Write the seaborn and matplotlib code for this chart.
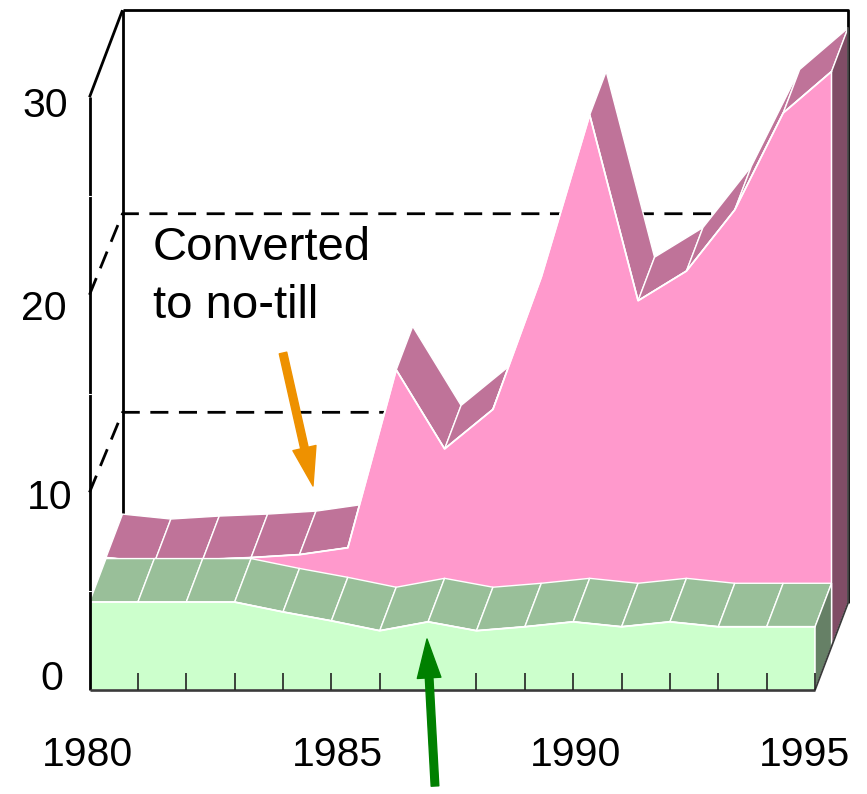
import matplotlib
matplotlib.use("Agg")
import matplotlib.pyplot as plt
import numpy as np
import pandas as pd
import seaborn as sns
from matplotlib.patches import Polygon

# ---- data -------------------------------------------------------------
years = [1980, 1981, 1982, 1983, 1984, 1985, 1986, 1987,
         1988, 1989, 1990, 1991, 1992, 1993, 1994, 1995]
converted_no_till = [4.5, 4.25, 4.4, 4.5, 4.65, 5.0, 14.0, 10.0,
                     12.0, 18.7, 26.9, 17.5, 19.0, 22.1, 27.0, 29.1]
other_no_till = [4.45, 4.45, 4.45, 4.45, 3.95, 3.5, 3.0, 3.45,
                 3.0, 3.2, 3.45, 3.2, 3.45, 3.2, 3.2, 3.2]
y_ticks = [0, 10, 20, 30]
x_tick_labels = [1980, 1985, 1990, 1995]
gridline_values = [10, 20]
note_lines = ["Converted", "to no-till"]

# ---- style ------------------------------------------------------------
sns.set_theme(style="white")
plt.rcParams["font.family"] = ["Liberation Sans", "DejaVu Sans"]

W, H = 867, 794
X0_PX, X_PER_YEAR = 89.5, 48.37      # pixel position of 1980, pixels per year
Y0_PX, Y_PER_UNIT = 690.0, 19.76     # pixel position of 0, pixels per unit
DEPTH_PX = (33.0, 87.0)              # oblique offset of the back wall

DX = DEPTH_PX[0] / X_PER_YEAR
DY = DEPTH_PX[1] / Y_PER_UNIT


def px2x(px):
    return years[0] + (px - X0_PX) / X_PER_YEAR


def py2y(py):
    return (Y0_PX - py) / Y_PER_UNIT


def proj(x, v, d):
    """Oblique projection of (year, value, depth) onto the 2-D axes."""
    return x + d * DX, v + d * DY


fig = plt.figure(figsize=(W / 100, H / 100), dpi=100)
ax = fig.add_axes([0, 0, 1, 1])
ax.set_xlim(px2x(0), px2x(W))
ax.set_ylim(py2y(H), py2y(0))
ax.axis("off")

first, last = years[0], years[-1]
top = y_ticks[-1]
frame_kw = dict(color="black", lw=2.0, solid_capstyle="butt")

# ---- back wall --------------------------------------------------------
bx, by = zip(proj(first, 0, 1), proj(first, top, 1))
ax.plot(bx, by, zorder=1, **frame_kw)
bx, by = zip(proj(first, top, 1), proj(last, top, 1), proj(last, 0, 1))
ax.plot(bx, by, zorder=1, **frame_kw)
for g in gridline_values:
    # back-wall gridlines sit slightly lower than the oblique offset gives
    shift = 0.3 if g == 20 else 0.35
    gx, gy = zip(proj(first, g, 0), proj(first, g - shift, 1), proj(last, g - shift, 1))
    ax.plot(gx, gy, color="black", lw=2.0, dashes=(6.5, 3.8), zorder=1)
# left wall top edge
tx, ty = zip(proj(first, top, 0), proj(first, top, 1))
ax.plot(tx, ty, zorder=1, **frame_kw)


# ---- 3-D area rows ----------------------------------------------------
def draw_row(values, d0, d1, front_c, top_c, side_c, z):
    n = len(years)
    for i in range(n - 1):
        quad = [proj(years[i], values[i], d0), proj(years[i + 1], values[i + 1], d0),
                proj(years[i + 1], values[i + 1], d1), proj(years[i], values[i], d1)]
        ax.add_patch(Polygon(quad, closed=True, fc=top_c, ec="white", lw=1.0, zorder=z))
    front = [proj(first, 0, d0)] + [proj(x, v, d0) for x, v in zip(years, values)] \
        + [proj(last, 0, d0)]
    ax.add_patch(Polygon(front, closed=True, fc=front_c, ec="white", lw=1.0, zorder=z + 1))
    side = [proj(last, 0, d0), proj(last, values[-1], d0),
            proj(last, values[-1], d1), proj(last, 0, d1)]
    ax.add_patch(Polygon(side, closed=True, fc=side_c, ec="white", lw=1.0, zorder=z + 1))
    edge = pd.DataFrame([proj(x, v, d0) for x, v in zip(years, values)], columns=["x", "y"])
    sns.lineplot(data=edge, x="x", y="y", color="white", lw=1.3, ax=ax,
                 zorder=z + 2, sort=False, estimator=None)


draw_row(converted_no_till, 0.5, 1.0, "#ff99cc", "#bf7399", "#804d66", 3)
draw_row(other_no_till, 0.0, 0.5, "#ccffcc", "#99bf99", "#668066", 6)

# ---- front frame ------------------------------------------------------
ax.plot([first, first], [0, top], zorder=10, **frame_kw)
for m in [5, 15, 25]:
    ax.plot([px2x(X0_PX - 1.5), px2x(X0_PX + 1.5)], [m, m], color="white", lw=0.8, zorder=11)
ax.plot([first, last], [0, 0], color="#3a3a3a", lw=1.9, zorder=10, solid_capstyle="butt")
ex, ey = zip(proj(last, 0, 0), proj(last, 0, 1), proj(last, converted_no_till[-1], 1))
ax.plot(ex, ey, color="#3a3a3a", lw=1.3, zorder=10)
ax.vlines(years[1:], 0, 17 / Y_PER_UNIT, color="#222222", lw=1.2, zorder=10)

# ---- tick labels ------------------------------------------------------
label_kw = dict(fontsize=29.5, color="black", zorder=12)
y_label_right_px = [63, 72, 67, 68]
y_label_base_px = [690, 509, 320, 117]
for v, rx, b in zip(y_ticks, y_label_right_px, y_label_base_px):
    ax.text(px2x(rx), py2y(b), str(v), ha="right", va="baseline", **label_kw)
x_label_center_px = [87.5, 337, 576, 804]
for yr, cx in zip(x_tick_labels, x_label_center_px):
    ax.text(px2x(cx), py2y(766), str(yr), ha="center", va="baseline", **label_kw)

# ---- annotations ------------------------------------------------------
for line, b in zip(note_lines, [260, 318]):
    ax.text(px2x(153), py2y(b), line, ha="left", va="baseline", fontsize=34,
            color="black", zorder=12)

arrow_style = "simple,head_length=2.8,head_width=1.7,tail_width=0.55"
ax.annotate("", xy=(px2x(313), py2y(486)), xytext=(px2x(283), py2y(353)),
            arrowprops=dict(arrowstyle=arrow_style, mutation_scale=10,
                            color="#ee9100", shrinkA=0, shrinkB=0), zorder=12)
ax.annotate("", xy=(px2x(427), py2y(639)), xytext=(px2x(435), py2y(786)),
            arrowprops=dict(arrowstyle=arrow_style, mutation_scale=10,
                            color="#008000", shrinkA=0, shrinkB=0), zorder=12)

fig.savefig("out.png", dpi=100)
